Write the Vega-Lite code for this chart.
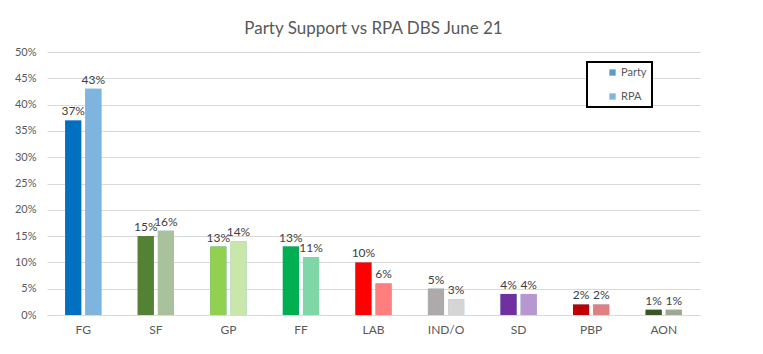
{
  "$schema": "https://vega.github.io/schema/vega-lite/v6.json",
  "autosize": "none",
  "width": 653,
  "height": 263,
  "padding": {"left": 47, "top": 52, "right": 63, "bottom": 39},
  "background": "white",
  "title": {
    "text": "Party Support vs RPA DBS June 21",
    "font": "Lato",
    "fontSize": 17,
    "fontWeight": "normal",
    "color": "#595959",
    "anchor": "middle",
    "offset": 8
  },
  "config": {
    "view": {"stroke": null},
    "font": "Lato",
    "axis": {"labelFont": "Lato", "labelColor": "#595959", "labelFontSize": 11, "title": null}
  },
  "data": {
    "values": [
      {"party": "FG", "series": "Party", "key": "FG-Party", "value": 0.37},
      {"party": "FG", "series": "RPA", "key": "FG-RPA", "value": 0.43},
      {"party": "SF", "series": "Party", "key": "SF-Party", "value": 0.15},
      {"party": "SF", "series": "RPA", "key": "SF-RPA", "value": 0.16},
      {"party": "GP", "series": "Party", "key": "GP-Party", "value": 0.13},
      {"party": "GP", "series": "RPA", "key": "GP-RPA", "value": 0.14},
      {"party": "FF", "series": "Party", "key": "FF-Party", "value": 0.13},
      {"party": "FF", "series": "RPA", "key": "FF-RPA", "value": 0.11},
      {"party": "LAB", "series": "Party", "key": "LAB-Party", "value": 0.10},
      {"party": "LAB", "series": "RPA", "key": "LAB-RPA", "value": 0.06},
      {"party": "IND/O", "series": "Party", "key": "IND/O-Party", "value": 0.05},
      {"party": "IND/O", "series": "RPA", "key": "IND/O-RPA", "value": 0.03},
      {"party": "SD", "series": "Party", "key": "SD-Party", "value": 0.04},
      {"party": "SD", "series": "RPA", "key": "SD-RPA", "value": 0.04},
      {"party": "PBP", "series": "Party", "key": "PBP-Party", "value": 0.02},
      {"party": "PBP", "series": "RPA", "key": "PBP-RPA", "value": 0.02},
      {"party": "AON", "series": "Party", "key": "AON-Party", "value": 0.01},
      {"party": "AON", "series": "RPA", "key": "AON-RPA", "value": 0.01}
    ]
  },
  "encoding": {
    "x": {
      "field": "party",
      "type": "nominal",
      "sort": null,
      "scale": {"paddingInner": 0.5, "paddingOuter": 0.25},
      "axis": {"labelAngle": 0, "ticks": false, "domainColor": "#d9d9d9", "labelPadding": 9, "labelFontSize": 12}
    },
    "xOffset": {"field": "series", "type": "nominal", "scale": {"paddingInner": 0.2}},
    "y": {
      "field": "value",
      "type": "quantitative",
      "scale": {"domain": [0, 0.5]},
      "axis": {
        "values": [0, 0.05, 0.1, 0.15, 0.2, 0.25, 0.3, 0.35, 0.4, 0.45, 0.5],
        "format": ".0%",
        "domain": false,
        "ticks": false,
        "gridColor": "#d9d9d9",
        "labelPadding": 11
      }
    }
  },
  "layer": [
    {
      "mark": {"type": "bar"},
      "encoding": {
        "fill": {
          "field": "series",
          "type": "nominal",
          "scale": {"domain": ["Party", "RPA"], "range": ["#5B9BD5", "#7FB6E0"]},
          "legend": {
            "title": null,
            "orient": "none",
            "legendX": 540,
            "legendY": 10,
            "symbolType": "square",
            "symbolSize": 40,
            "symbolStrokeWidth": 0,
            "symbolOffset": 15,
            "labelFont": "Lato",
            "labelFontSize": 11,
            "labelColor": "#595959",
            "labelExpr": "datum.label + '\u00a0\u00a0\u00a0\u00a0\u00a0'",
            "rowPadding": 12,
            "padding": 5,
            "strokeColor": "black",
            "fillColor": "white",
            "labelOffset": 3,
            "encode": {"legend": {"update": {"strokeWidth": {"value": 2}}}}
          }
        }
      }
    },
    {
      "mark": {"type": "bar"},
      "encoding": {
        "color": {
          "field": "key",
          "type": "nominal",
          "legend": null,
          "scale": {
            "domain": ["FG-Party", "FG-RPA", "SF-Party", "SF-RPA", "GP-Party", "GP-RPA", "FF-Party", "FF-RPA", "LAB-Party", "LAB-RPA", "IND/O-Party", "IND/O-RPA", "SD-Party", "SD-RPA", "PBP-Party", "PBP-RPA", "AON-Party", "AON-RPA"],
            "range": ["#0070C0", "#7FB4DE", "#538135", "#A9C29B", "#92D050", "#C9E7A8", "#00B050", "#7FD6A7", "#FF0000", "#FF7F7F", "#AEAAAA", "#D6D5D5", "#7030A0", "#B897D0", "#C00000", "#E07F7F", "#375623", "#9BAB91"]
          }
        }
      }
    },
    {
      "mark": {"type": "text", "dy": -9, "fontSize": 12, "color": "#404040", "font": "Lato"},
      "encoding": {
        "text": {"field": "value", "type": "quantitative", "format": ".0%"}
      }
    }
  ]
}
